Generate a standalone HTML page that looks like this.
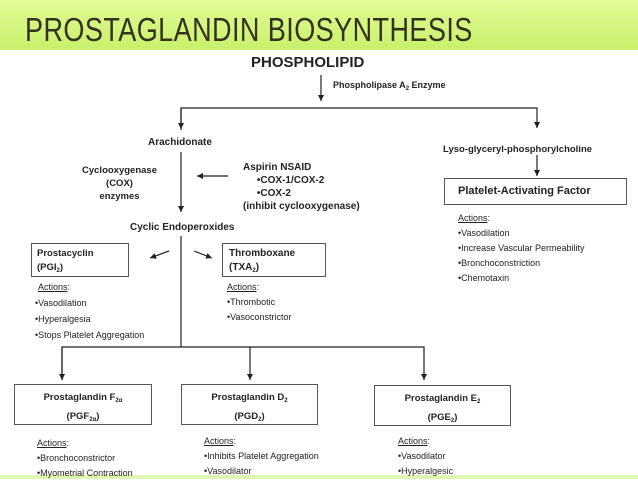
<!DOCTYPE html>
<html><head><meta charset="utf-8"><style>
body{margin:0;width:638px;height:479px;overflow:hidden;background:#fff;position:relative;font-family:"Liberation Sans",sans-serif;color:#222}
.band{position:absolute;left:0;top:0;width:638px;height:50px;background:linear-gradient(#e2fb98,#c8f06a)}
.bot{position:absolute;left:0;top:475px;width:638px;height:4px;background:#dff8b0}
h1{position:absolute;left:25px;top:11px;margin:0;font:33px "Liberation Sans Narrow","Liberation Sans",sans-serif;transform:scaleX(.82);transform-origin:left;color:#33331f;letter-spacing:0.5px}
.t{position:absolute;white-space:nowrap;font-size:10px}
.b{font-weight:bold}
.box{position:absolute;border:1.5px solid #555;box-sizing:border-box}
.u{text-decoration:underline}
sub{font-size:6px;line-height:0;vertical-align:-2px}
</style></head><body>
<div class="band"></div><div class="bot"></div>
<h1>PROSTAGLANDIN BIOSYNTHESIS</h1>
<svg width="638" height="479" style="position:absolute;left:0;top:0" stroke="#222" stroke-width="1.2" fill="none">
<defs><marker id="a" markerWidth="8" markerHeight="8" refX="6" refY="3" orient="auto" markerUnits="userSpaceOnUse"><path d="M0,0L6,3L0,6z" fill="#222" stroke="none"/></marker></defs>
<line x1="321" y1="75" x2="321" y2="101" marker-end="url(#a)"/>
<polyline points="181,130 181,108 537,108 537,128" marker-end="url(#a)"/>
<line x1="181" y1="108" x2="181" y2="129" marker-end="url(#a)"/>
<line x1="181" y1="152" x2="181" y2="212" marker-end="url(#a)"/>
<line x1="228" y1="176" x2="197" y2="176" marker-end="url(#a)"/>
<line x1="537" y1="155" x2="537" y2="176" marker-end="url(#a)"/>
<line x1="169" y1="251" x2="150" y2="258" marker-end="url(#a)"/>
<line x1="194" y1="251" x2="212" y2="258" marker-end="url(#a)"/>
<polyline points="181,236 181,347"/>
<polyline points="62,380 62,347 424,347 424,380" marker-end="url(#a)"/>
<line x1="62" y1="347" x2="62" y2="380" marker-end="url(#a)"/>
<line x1="250" y1="347" x2="250" y2="380" marker-end="url(#a)"/>
</svg>
<div class="t b" style="left:251px;top:54px;font-size:15px">PHOSPHOLIPID</div>
<div class="t b" style="left:333px;top:80px;font-size:9px">Phospholipase A<sub>2</sub> Enzyme</div>
<div class="t b" style="left:148px;top:137px">Arachidonate</div>
<div class="t b" style="left:443px;top:144px;font-size:9.5px">Lyso-glyceryl-phosphorylcholine</div>
<div class="t b" style="left:82px;top:164px;font-size:9.5px;text-align:center;line-height:13px">Cyclooxygenase<br>(COX)<br>enzymes</div>
<div class="t b" style="left:243px;top:161px;line-height:13px">Aspirin NSAID<br>&nbsp;&nbsp;&nbsp;&nbsp;&nbsp;•COX-1/COX-2<br>&nbsp;&nbsp;&nbsp;&nbsp;&nbsp;•COX-2<br>(inhibit cyclooxygenase)</div>
<div class="box" style="left:444px;top:178px;width:183px;height:27px"></div>
<div class="t b" style="left:458px;top:185px;font-size:11px">Platelet-Activating Factor</div>
<div class="t" style="left:458px;top:211px;font-size:9px;line-height:15px"><span class="u">Actions</span>:<br>•Vasodilation<br>•Increase Vascular Permeability<br>•Bronchoconstriction<br>•Chemotaxin</div>
<div class="t b" style="left:130px;top:222px">Cyclic Endoperoxides</div>
<div class="box" style="left:31px;top:243px;width:98px;height:34px"></div>
<div class="t b" style="left:37px;top:247px;font-size:9.5px;line-height:14px">Prostacyclin<br>(PGI<sub>2</sub>)</div>
<div class="box" style="left:222px;top:243px;width:104px;height:34px"></div>
<div class="t b" style="left:229px;top:247px;line-height:14px">Thromboxane<br>(TXA<sub>2</sub>)</div>
<div class="t" style="left:38px;top:280px;font-size:9px;line-height:15px"><span class="u">Actions</span>:</div>
<div class="t" style="left:35px;top:295px;font-size:9px;line-height:16px">•Vasodilation<br>•Hyperalgesia<br>•Stops Platelet Aggregation</div>
<div class="t" style="left:227px;top:280px;font-size:9px;line-height:15px"><span class="u">Actions</span>:<br>•Thrombotic<br>•Vasoconstrictor</div>
<div class="box" style="left:14px;top:384px;width:138px;height:41px"></div>
<div class="t b" style="left:14px;top:388px;width:138px;text-align:center;font-size:9.5px;line-height:19px">Prostaglandin F<sub>2α</sub><br>(PGF<sub>2α</sub>)</div>
<div class="box" style="left:181px;top:384px;width:137px;height:41px"></div>
<div class="t b" style="left:181px;top:388px;width:137px;text-align:center;font-size:9.5px;line-height:19px">Prostaglandin D<sub>2</sub><br>(PGD<sub>2</sub>)</div>
<div class="box" style="left:374px;top:385px;width:137px;height:41px"></div>
<div class="t b" style="left:374px;top:389px;width:137px;text-align:center;font-size:9.5px;line-height:19px">Prostaglandin E<sub>2</sub><br>(PGE<sub>2</sub>)</div>
<div class="t" style="left:37px;top:436px;font-size:9px;line-height:15px"><span class="u">Actions</span>:<br>•Bronchoconstrictor<br>•Myometrial Contraction</div>
<div class="t" style="left:204px;top:434px;font-size:9px;line-height:15px"><span class="u">Actions</span>:<br>•Inhibits Platelet Aggregation<br>•Vasodilator</div>
<div class="t" style="left:398px;top:434px;font-size:9px;line-height:15px"><span class="u">Actions</span>:<br>•Vasodilator<br>•Hyperalgesic</div>
</body></html>
